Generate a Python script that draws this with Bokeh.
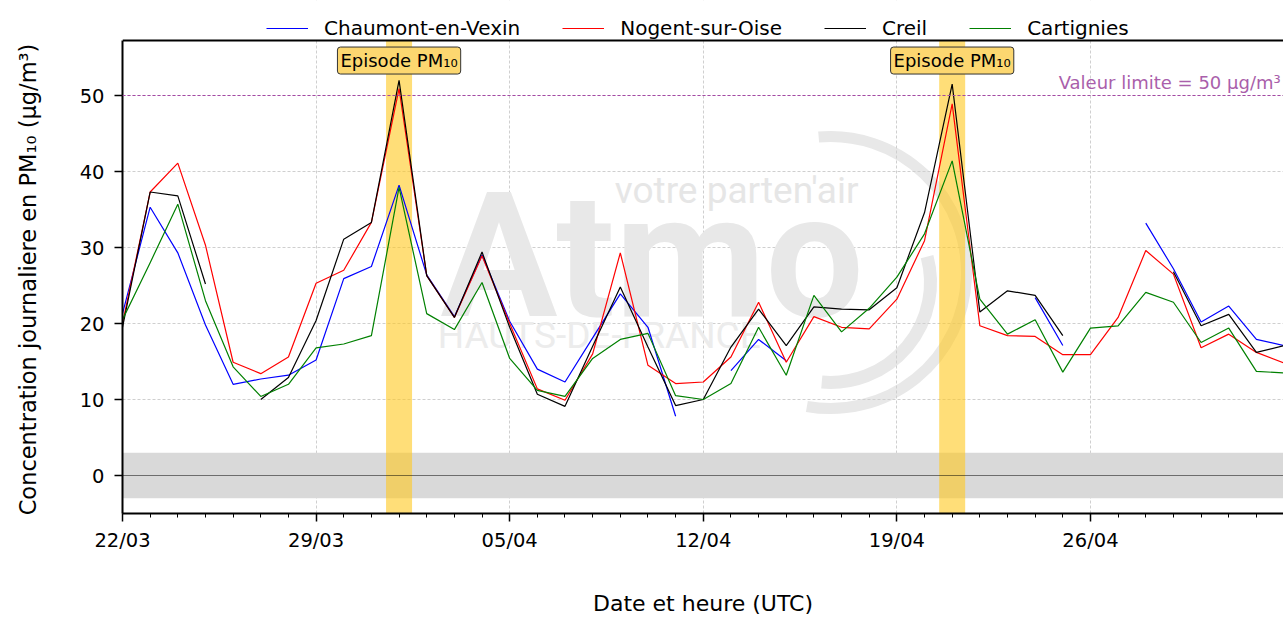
import numpy as np
import pandas as pd
from bokeh.plotting import figure
from bokeh.models import (Range1d, FixedTicker, DatetimeTickFormatter, BoxAnnotation,
                          Span, Label, Legend, LegendItem)
from bokeh.embed import file_html
from bokeh.resources import INLINE

nan = float("nan")

# ---------------- data ----------------
start_date = "2025-03-22"
n_days = 43
dates = pd.date_range(start_date, periods=n_days, freq="D")

chaumont = [21.3, 35.3, 29.3, 19.8, 12.0, 12.7, 13.2, 15.2, 25.9, 27.5,
            38.2, 26.4, 20.9, 29.0, 20.3, 14.0, 12.3, 18.1, 23.9, 19.5,
            7.8, nan, 13.8, 17.9, 15.1, nan, nan, nan, nan, nan,
            nan, nan, nan, 23.4, 17.1, nan, nan, 33.2, 27.2, 20.2,
            22.3, 17.9, 17.1]
nogent = [20.0, 37.3, 41.1, 30.3, 14.9, 13.4, 15.6, 25.3, 27.0, 33.3,
          50.9, 26.3, 20.8, 28.9, 20.0, 11.4, 9.9, 16.0, 29.3, 14.5,
          12.1, 12.3, 15.6, 22.8, 14.9, 20.9, 19.5, 19.3, 23.2, 30.9,
          48.9, 19.7, 18.4, 18.3, 15.9, 15.9, 20.8, 29.6, 26.5, 16.8,
          18.6, 16.2, 14.8]
creil = [19.5, 37.3, 36.8, 25.2, nan, 10.0, 12.9, 20.4, 31.1, 33.3,
         52.0, 26.3, 20.8, 29.4, 19.5, 10.7, 9.1, 17.0, 24.8, 16.9,
         9.2, 10.0, 16.9, 21.9, 17.1, 22.2, 21.9, 21.8, 24.7, 34.6,
         51.5, 21.5, 24.3, 23.7, 18.4, nan, nan, nan, 26.8, 19.7,
         21.2, 16.2, 17.1]
cartignies = [20.5, 28.0, 35.7, 23.0, 14.3, 10.4, 12.0, 16.8, 17.3, 18.4,
              37.9, 21.3, 19.2, 25.4, 15.4, 11.2, 10.4, 15.4, 17.9, 18.7,
              10.5, 10.0, 12.1, 19.5, 13.2, 23.7, 18.9, 22.0, 26.1, 31.8,
              41.4, 23.2, 18.6, 20.5, 13.6, 19.4, 19.7, 24.1, 22.8, 17.5,
              19.4, 13.7, 13.5]

series_names = ["Chaumont-en-Vexin", "Nogent-sur-Oise", "Creil", "Cartignies"]
series_colors = ["#0000ff", "#ff0000", "#000000", "#008000"]

tick_dates = ["2025-03-22", "2025-03-29", "2025-04-05", "2025-04-12",
              "2025-04-19", "2025-04-26"]
episode_dates = ["2025-04-01", "2025-04-21"]
limit_value = 50
y_ticks = [0, 10, 20, 30, 40, 50]

# ---------------- helpers ----------------
def ms(ts):
    return pd.Timestamp(ts).value / 1e6

DAY = 86400000.0
x0 = ms(start_date)
x1 = x0 + 41.98 * DAY
Y0 = -5.0          # bottom of the axes
Y_TOP = 57.24      # top of the axes box
Y_CANVAS = 62.5    # frame extends above the axes box to host the legend

FONT = "DejaVu Sans"
all_series = [chaumont, nogent, creil, cartignies]

p = figure(width=1283, height=618, x_axis_type="datetime",
           x_range=Range1d(x0, x1), y_range=Range1d(Y0, Y_CANVAS),
           output_backend="svg", toolbar_location=None, title=None,
           min_border_left=122, min_border_right=0, min_border_top=0,
           min_border_bottom=105)
p.background_fill_color = "white"
p.border_fill_color = "white"
p.outline_line_color = None

# grids
p.xgrid.grid_line_color = "#cfcfcf"
p.xgrid.grid_line_dash = "3 2"
p.ygrid.grid_line_color = "#cfcfcf"
p.ygrid.grid_line_dash = "3 2"

# watermark (decoration)
wm_day = lambda d: x0 + d * DAY
p.arc(x=[wm_day(25.6)], y=[26.7], radius=136, radius_units="screen",
      start_angle=np.radians(-100), end_angle=np.radians(95),
      line_color="#e8e8e8", line_width=11, level="underlay")
p.arc(x=[wm_day(25.6)], y=[25.4], radius=100, radius_units="screen",
      start_angle=np.radians(-95), end_angle=np.radians(15),
      line_color="#e8e8e8", line_width=13, level="underlay")
p.add_layout(Label(x=wm_day(11.5), y=28.8, text="Atmo", text_font="Roboto",
                   text_font_style="bold", text_font_size="174px",
                   text_color="#e8e8e8", text_baseline="alphabetic",
                   text_align="left", level="underlay"))
p.add_layout(Label(x=wm_day(17.8), y=37.5, text="votre parten'air", text_font="Roboto",
                   text_font_size="37px", text_color="#e6e6e6",
                   text_baseline="middle", text_align="left", level="underlay"))
p.add_layout(Label(x=wm_day(11.4), y=18.4, text="HAUTS-DE-FRANCE", text_font="Roboto",
                   text_font_size="37px", text_color="#ececec",
                   text_baseline="middle", text_align="left", level="underlay"))

# bands
p.add_layout(BoxAnnotation(bottom=-3, top=3, fill_color="#d9d9d9", fill_alpha=1.0,
                           line_color=None, level="underlay"))
for d in episode_dates:
    c = ms(d)
    p.add_layout(BoxAnnotation(left=c - 0.47 * DAY, right=c + 0.47 * DAY,
                               top=Y_TOP, fill_color="#FFC81E", fill_alpha=0.6,
                               line_color=None, level="underlay"))

p.add_layout(Span(location=0, dimension="width", line_color="black",
                  line_dash="1 1", line_width=1))
p.add_layout(Span(location=limit_value, dimension="width", line_color="#a548a5",
                  line_dash="3 2", line_width=1.2))

# lines
items = []
for name, col, vals in zip(series_names, series_colors, all_series):
    r = p.line(dates, vals, line_color=col, line_width=1.2)
    items.append(LegendItem(label=name, renderers=[r]))

# white strip above the axes box (legend area) and the top border
p.add_layout(BoxAnnotation(bottom=Y_TOP, fill_color="white", fill_alpha=1.0,
                           line_color=None))
p.add_layout(Span(location=Y_TOP, dimension="width", line_color="black",
                  line_width=2))

legend = Legend(items=items, orientation="horizontal", location=(144, 473),
                label_text_font=FONT, label_text_font_size="20px",
                label_text_color="black",
                glyph_width=42, label_standoff=16, spacing=42,
                border_line_color=None, background_fill_alpha=0,
                padding=3, margin=0)
p.add_layout(legend)

# episode labels
for d in episode_dates:
    p.add_layout(Label(x=ms(d), y=54.6, text="Episode PM₁₀", text_align="center",
                       text_baseline="middle", text_font=FONT, text_font_size="18px",
                       text_color="black", background_fill_color="#FCD770",
                       border_line_color="#333333", border_line_width=1,
                       border_radius=3, padding=3))

p.add_layout(Label(x=x0 + 33.85 * DAY, y=51.7,
                   text="Valeur limite = %d µg/m³" % limit_value,
                   text_align="left", text_baseline="middle", text_font=FONT,
                   text_font_size="18px", text_color="#aa5fab"))

# axes
p.xaxis.ticker = FixedTicker(ticks=[ms(t) for t in tick_dates],
                             minor_ticks=[x0 + i * DAY for i in range(n_days)])
p.xaxis.formatter = DatetimeTickFormatter(days="%d/%m", months="%d/%m",
                                          hours="%d/%m")
p.yaxis.ticker = FixedTicker(ticks=y_ticks)
p.yaxis.bounds = (Y0, Y_TOP)

for ax in (p.xaxis[0], p.yaxis[0]):
    ax.axis_line_width = 2
    ax.axis_line_color = "black"
    ax.major_tick_line_width = 1.5
    ax.major_tick_out = 8
    ax.major_tick_in = 0
    ax.minor_tick_out = 4
    ax.minor_tick_in = 0
    ax.major_label_text_font = FONT
    ax.major_label_text_font_size = "19.5px"
    ax.major_label_text_color = "black"
    ax.axis_label_text_font = FONT
    ax.axis_label_text_font_style = "normal"
    ax.axis_label_text_color = "black"

p.xaxis.axis_label_text_font_size = "22px"
p.yaxis.axis_label_text_font_size = "22.5px"
p.xaxis.major_label_standoff = 7
p.xaxis.axis_label = "Date et heure (UTC)"
p.xaxis.axis_label_standoff = 36
# two trailing em-spaces re-centre the rotated label on the axes box
p.yaxis.axis_label = "Concentration journaliere en PM₁₀ (µg/m³)\u2003\u2003"
p.yaxis.axis_label_standoff = 36
p.yaxis.major_label_standoff = 10
p.yaxis.minor_tick_line_color = None

open("out.html", "w").write(file_html(p, INLINE))
